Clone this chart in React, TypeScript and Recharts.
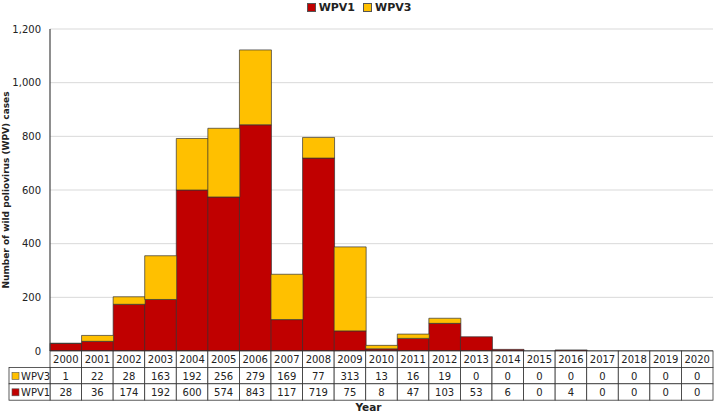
import { BarChart, Bar, XAxis, YAxis, CartesianGrid } from 'recharts'

const years = ['2000', '2001', '2002', '2003', '2004', '2005', '2006', '2007', '2008', '2009', '2010',
  '2011', '2012', '2013', '2014', '2015', '2016', '2017', '2018', '2019', '2020']
const wpv1 = [28, 36, 174, 192, 600, 574, 843, 117, 719, 75, 8, 47, 103, 53, 6, 0, 4, 0, 0, 0, 0]
const wpv3 = [1, 22, 28, 163, 192, 256, 279, 169, 77, 313, 13, 16, 19, 0, 0, 0, 0, 0, 0, 0, 0]
const yTicks = [0, 200, 400, 600, 800, 1000, 1200]

const RED = '#C00000'
const YELLOW = '#FFC000'
const FONT = 'Tahoma, "DejaVu Sans", sans-serif'

const data = years.map((year, i) => ({ year, wpv1: wpv1[i], wpv3: wpv3[i] }))

const ROW = 16.4

function TableTick(props: any) {
  const { x, y, index, payload } = props
  const band = (props.width ?? 663) / years.length
  const left = x - band / 2
  const cell = (row: number, text: string | number) => (
    <g key={row}>
      <rect x={left} y={y + row * ROW} width={band} height={ROW} fill="#fff" stroke="#333" strokeWidth={0.8} />
      <text x={x} y={y + row * ROW + ROW / 2 + 4} textAnchor="middle" fontSize={10} fill="#222" fontFamily={FONT}>{text}</text>
    </g>
  )
  return (
    <g>
      {cell(0, payload.value)}
      {cell(1, wpv3[index])}
      {cell(2, wpv1[index])}
      {index === 0 && (
        <g>
          {[{ name: 'WPV3', color: YELLOW }, { name: 'WPV1', color: RED }].map((s, r) => (
            <g key={s.name}>
              <rect x={9} y={y + (r + 1) * ROW} width={left - 9} height={ROW} fill="#fff" stroke="#333" strokeWidth={0.8} />
              <rect x={12} y={y + (r + 1) * ROW + 5} width={7} height={7} fill={s.color} stroke="#555" strokeWidth={0.6} />
              <text x={21} y={y + (r + 1) * ROW + ROW / 2 + 4} fontSize={10} fill="#222" fontFamily={FONT}>{s.name}</text>
            </g>
          ))}
        </g>
      )}
    </g>
  )
}

export default function App() {
  return (
    <div style={{ position: 'absolute', left: 0, top: 0, width: 718, height: 415, background: '#fff', fontFamily: FONT }}>
      <div style={{ position: 'absolute', top: 1, left: 0, width: 718, display: 'flex', justifyContent: 'center', gap: 8, fontSize: 11, fontWeight: 'bold', color: '#222' }}>
        <span style={{ display: 'flex', alignItems: 'center', gap: 3 }}>
          <span style={{ width: 7, height: 7, background: RED, border: '1px solid #555', display: 'inline-block' }} />WPV1
        </span>
        <span style={{ display: 'flex', alignItems: 'center', gap: 3 }}>
          <span style={{ width: 7, height: 7, background: YELLOW, border: '1px solid #555', display: 'inline-block' }} />WPV3
        </span>
      </div>
      <BarChart width={718} height={415} data={data} barCategoryGap={0}
        margin={{ top: 29, right: 5, left: 0, bottom: 0 }}>
        <CartesianGrid vertical={false} stroke="#d9d9d9" />
        <XAxis dataKey="year" tickLine={false} tickSize={0} tickMargin={0} interval={0}
          axisLine={{ stroke: '#333' }} tick={<TableTick />} height={64}
          label={{ value: 'Year', position: 'insideBottom', offset: 4, dx: -13, fontSize: 10.5, fontWeight: 'bold', fill: '#222', fontFamily: FONT }} />
        <YAxis domain={[0, 1200]} ticks={yTicks} width={50} tickLine={false}
          axisLine={{ stroke: '#444', strokeWidth: 1.2 }}
          tickFormatter={(v: number) => v.toLocaleString('en-US')}
          tick={{ fontSize: 10, fill: '#222', fontFamily: FONT }} tickMargin={3}
          label={{ value: 'Number of wild poliovirus (WPV) cases', angle: -90, position: 'insideLeft', offset: 6, fontSize: 9, fontWeight: 'bold', fill: '#222', fontFamily: FONT, style: { textAnchor: 'middle' } }} />
        <Bar dataKey="wpv1" name="WPV1" stackId="a" fill={RED} stroke="#333" strokeWidth={0.7} isAnimationActive={false} />
        <Bar dataKey="wpv3" name="WPV3" stackId="a" fill={YELLOW} stroke="#333" strokeWidth={0.7} isAnimationActive={false} />
      </BarChart>
    </div>
  )
}
